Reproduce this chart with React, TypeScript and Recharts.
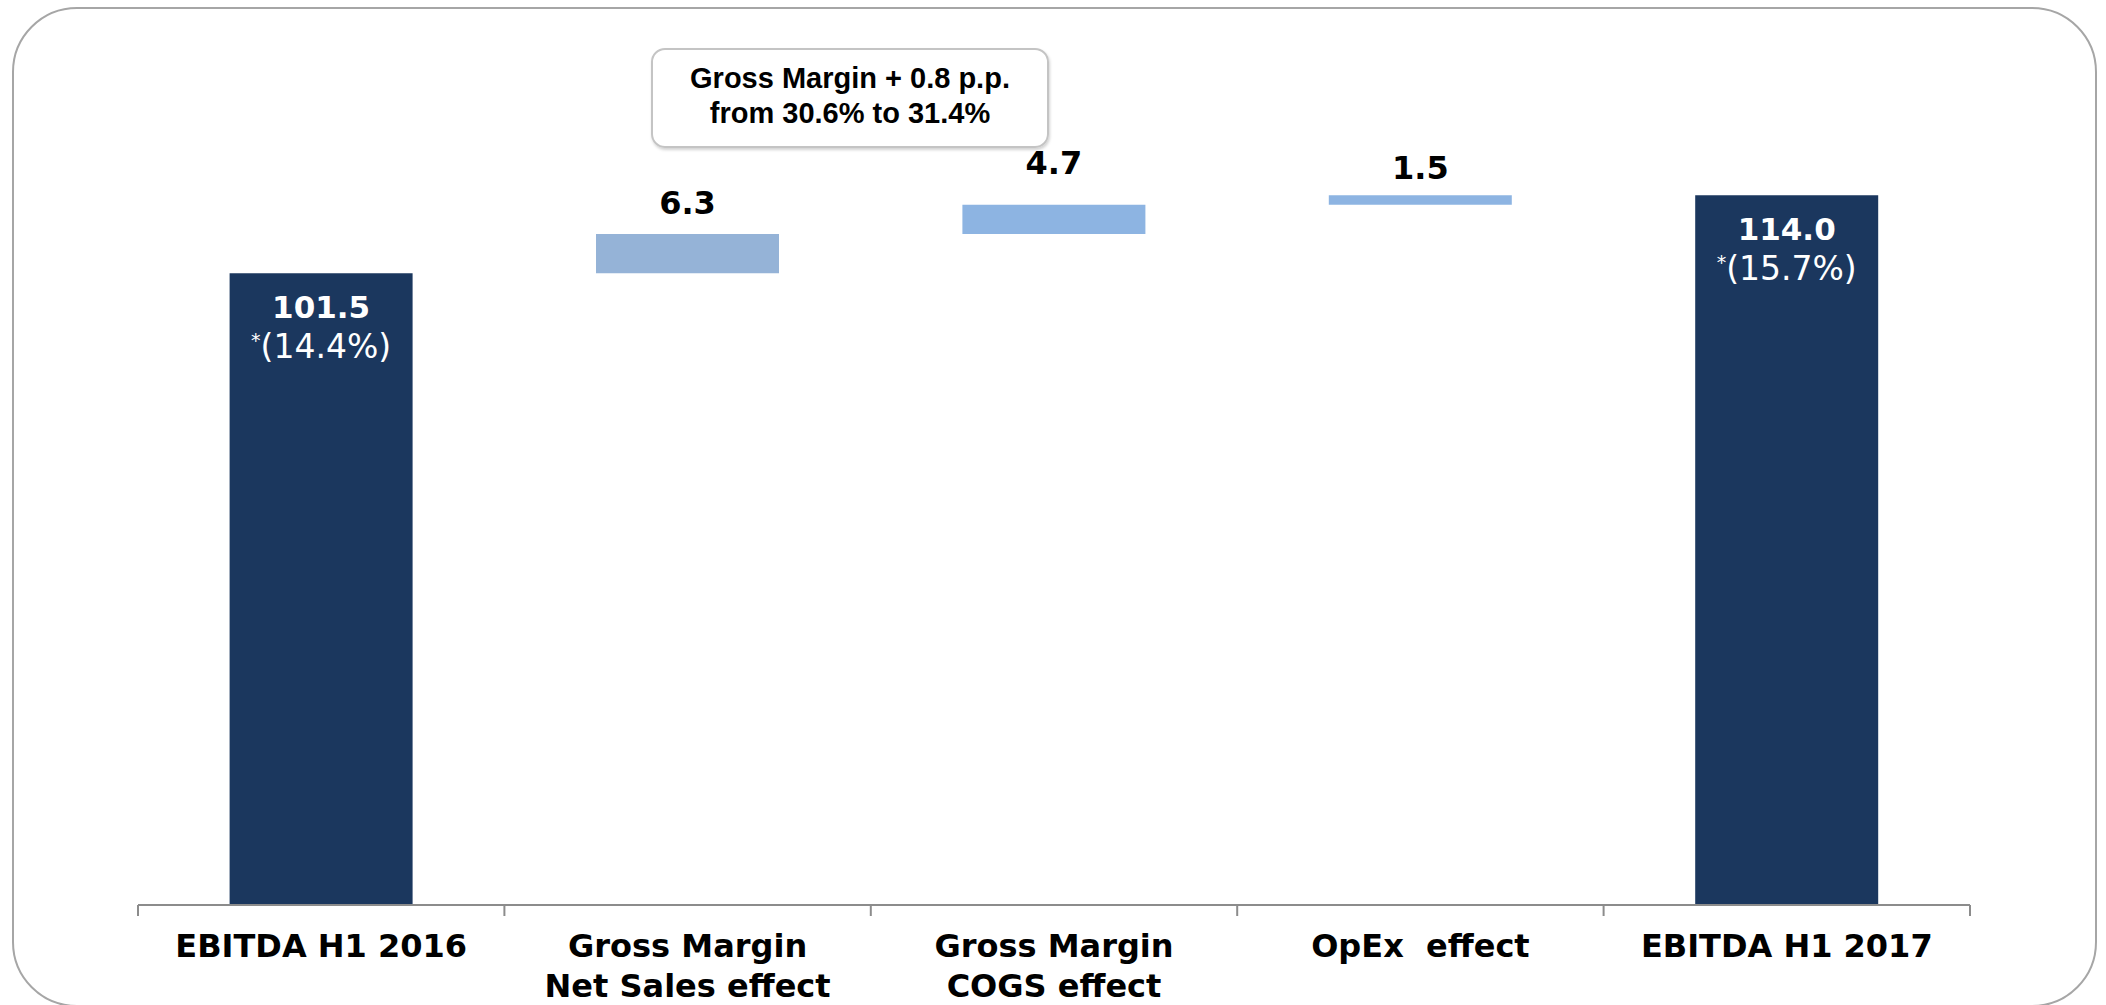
import { BarChart, Bar, XAxis, YAxis, LabelList, Cell } from "recharts";

// waterfall data
const categories = [
  "EBITDA H1 2016",
  "Gross Margin\nNet Sales effect",
  "Gross Margin\nCOGS effect",
  "OpEx  effect",
  "EBITDA H1 2017",
];
const values = [101.5, 6.3, 4.7, 1.5, 114.0];
const isTotal = [true, false, false, false, true];
const marginPct = ["14.4%", "", "", "", "15.7%"];
const calloutLines = ["Gross Margin + 0.8 p.p.", "from 30.6% to 31.4%"];

const BAR_COLORS = ["#1b375e", "#95b3d7", "#8db4e2", "#8db4e2", "#1b375e"];
const LABEL_LIFT = [0, 31, 42, 28, 0];
const AXIS_COLOR = "#8c8c8c";
const FONT = "'DejaVu Sans', Verdana, sans-serif";

const W = 2106;
const H = 1005;
const MARGIN = { top: 158, right: 136, bottom: 10, left: 138 };
const BAND = (W - MARGIN.left - MARGIN.right) / categories.length;

let running = 0;
const data = categories.map((name, i) => {
  const base = isTotal[i] ? 0 : running;
  running = isTotal[i] ? values[i] : running + values[i];
  return { name, base, value: values[i], total: isTotal[i], pct: marginPct[i] };
});

function AxisTick(props: any) {
  const { x, y, payload } = props;
  const index = props.index ?? payload.index;
  const lines = String(payload.value).split("\n");
  const half = BAND / 2;
  return (
    <g>
      <line x1={x - half} x2={x - half} y1={y} y2={y + 11} stroke={AXIS_COLOR} strokeWidth={2} />
      {index === categories.length - 1 && (
        <line x1={x + half} x2={x + half} y1={y} y2={y + 11} stroke={AXIS_COLOR} strokeWidth={2} />
      )}
      <text
        x={x}
        y={y + 52}
        textAnchor="middle"
        fontFamily={FONT}
        fontWeight="bold"
        fontSize={32}
        fill="#000"
        style={{ whiteSpace: "pre" }}
      >
        {lines.map((l, i) => (
          <tspan key={i} x={x} dy={i === 0 ? 0 : 40}>
            {l}
          </tspan>
        ))}
      </text>
    </g>
  );
}

function BarLabel(props: any) {
  const { x, y, width, index, value } = props;
  const cx = x + width / 2;
  const row = data[index];
  if (row.total) {
    return (
      <g>
        <text x={cx} y={y + 45} textAnchor="middle" fontFamily={FONT} fontWeight="bold" fontSize={31} fill="#fff">
          {Number(value).toFixed(1)}
        </text>
        <text x={cx} y={y + 85} textAnchor="middle" fontFamily={FONT} fill="#fff">
          <tspan fontSize={19} dy={-11}>*</tspan>
          <tspan fontSize={33} dy={11}>({row.pct})</tspan>
        </text>
      </g>
    );
  }
  return (
    <text
      x={cx}
      y={y - LABEL_LIFT[index] + 11.5}
      textAnchor="middle"
      fontFamily={FONT}
      fontWeight="bold"
      fontSize={32}
      fill="#000"
    >
      {Number(value).toFixed(1)}
    </text>
  );
}

export default function App() {
  return (
    <div style={{ position: "absolute", left: 0, top: 0, width: W, height: H, overflow: "hidden", background: "#fff" }}>
      <div
        style={{
          position: "absolute",
          left: 12,
          top: 7,
          width: 2085,
          height: 1000,
          border: "2px solid #a6a6a6",
          borderRadius: 65,
          boxSizing: "border-box",
        }}
      />
      <div style={{ position: "absolute", left: 0, top: 0 }}>
        <BarChart width={W} height={H} data={data} margin={MARGIN} barCategoryGap="25%">
          <XAxis
            dataKey="name"
            interval={0}
            height={90}
            tickSize={0}
            tickMargin={0}
            tickLine={false}
            axisLine={{ stroke: AXIS_COLOR, strokeWidth: 2 }}
            tick={<AxisTick />}
          />
          <YAxis hide domain={[0, 120]} />
          <Bar dataKey="base" stackId="w" fill="transparent" isAnimationActive={false} />
          <Bar dataKey="value" stackId="w" isAnimationActive={false}>
            {data.map((_d, i) => (
              <Cell key={i} fill={BAR_COLORS[i]} />
            ))}
            <LabelList dataKey="value" content={<BarLabel />} />
          </Bar>
        </BarChart>
      </div>
      <div
        style={{
          position: "absolute",
          left: 651,
          top: 48,
          width: 398,
          height: 100,
          border: "2px solid #c4c4c4",
          borderRadius: 14,
          boxSizing: "border-box",
          boxShadow: "1px 2px 3px rgba(0,0,0,0.18)",
          display: "flex",
          flexDirection: "column",
          justifyContent: "center",
          alignItems: "center",
          fontFamily: "'Liberation Sans', Arial, sans-serif",
          fontWeight: "bold",
          fontSize: 29,
          lineHeight: "35px",
          color: "#000",
          paddingBottom: 4,
        }}
      >
        {calloutLines.map((l, i) => (
          <div key={i}>{l}</div>
        ))}
      </div>
    </div>
  );
}
